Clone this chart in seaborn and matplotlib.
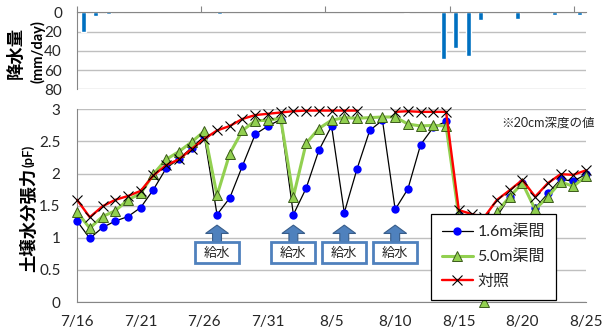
import numpy as np
import pandas as pd
import seaborn as sns
import matplotlib.pyplot as plt
from matplotlib.lines import Line2D
from matplotlib.patches import Rectangle, FancyArrow

# day index 0 = 7/16 ... 40 = 8/25
days = list(range(41))
date_labels = ["7/16", "7/21", "7/26", "7/31", "8/5", "8/10", "8/15", "8/20", "8/25"]

# daily rainfall (mm/day)
rain = [20, 4, 2, 0, 0, 0, 0, 0, 0, 0,
        0, 2, 0, 0, 0, 0, 0, 0, 0, 0,
        0, 0, 0, 0, 0, 0, 0.5, 0, 0, 48,
        37, 45, 8, 0, 0, 6.5, 0, 0, 2.5, 0,
        2.5]

# soil water tension (pF) at 20cm depth
pf_16m = [1.26, 0.99, 1.16, 1.26, 1.33, 1.47, 1.75, 2.08, 2.23, 2.40,
          2.58, 1.36, 1.62, 2.12, 2.61, 2.74, 2.84, 1.36, 1.77, 2.36,
          2.74, 1.39, 2.07, 2.67, 2.83, 1.44, 1.76, 2.45, 2.72, 2.81,
          1.35, 1.28, 1.22, 1.33, 1.64, 1.85, 1.46, 1.69, 1.91, 1.88,
          1.99]
pf_50m = [1.40, 1.15, 1.33, 1.42, 1.59, 1.69, 1.99, 2.22, 2.34, 2.49,
          2.66, 1.66, 2.31, 2.67, 2.82, 2.83, 2.86, 1.64, 2.47, 2.70,
          2.83, 2.87, 2.86, 2.87, 2.88, 2.88, 2.77, 2.74, 2.75, 2.74,
          1.34, 1.30, 0.00, 1.40, 1.64, 1.85, 1.44, 1.64, 1.87, 1.80,
          1.96]
pf_ctrl = [1.59, 1.32, 1.49, 1.59, 1.65, 1.73, 1.97, 2.13, 2.22, 2.38,
           2.54, 2.67, 2.74, 2.85, 2.91, 2.93, 2.95, 2.97, 2.98, 2.98,
           2.98, 2.98, 2.98, np.nan, np.nan, 2.96, 2.97, 2.96, 2.96, 2.96,
           1.43, 1.37, 1.32, 1.59, 1.74, 1.90, 1.64, 1.85, 1.99, 1.98,
           2.05]

# watering days (給水)
water_days = [11, 17, 21, 25]

sns.set_style("white")
plt.rcParams['font.family'] = ['Lato', 'Noto Sans CJK JP']

grid_c = '#BFBFBF'
axis_c = '#868686'
text_c = '#262626'

fig = plt.figure(figsize=(6.02, 3.34), dpi=100)
ax1 = fig.add_axes([0.1284, 0.7326, 0.845, 0.2305])
ax2 = fig.add_axes([0.128, 0.0958, 0.8455, 0.577])

# --- rainfall panel ---
sns.barplot(x=days, y=rain, ax=ax1, color='#0070C0', saturation=1, width=0.4)
ax1.set_xlim(-0.5, 40.5)
ax1.set_ylim(80, 0)
ax1.set_yticks([0, 20, 40, 60, 80])
ax1.set_yticklabels(['0', '20', '40', '60', '80'])
ax1.xaxis.tick_top()
ax1.set_xticks([-0.5, 9.5, 19.5, 29.5, 39.5])
ax1.set_xticklabels([])
ax1.grid(axis='y', color=grid_c, lw=1)
ax1.set_axisbelow(True)
for s in ['bottom', 'right']:
    ax1.spines[s].set_visible(False)
for s in ['top', 'left']:
    ax1.spines[s].set_color(axis_c)
ax1.tick_params(axis='x', length=4, color=axis_c, direction='out')
ax1.tick_params(axis='y', length=3, color=axis_c, pad=8, labelsize=11, labelcolor=text_c)
ax1.set_xlabel('')
ax1.set_ylabel('')

# --- soil water tension panel ---
df_ctrl = pd.DataFrame({'day': days, 'pf': pf_ctrl})
df_ctrl['seg'] = df_ctrl['pf'].isna().cumsum()
df_ctrl = df_ctrl.dropna()

sns.lineplot(x=days, y=pf_16m, ax=ax2, color='black', lw=0.9, marker='o', ms=6,
             mfc='blue', mec='blue', mew=0, clip_on=False, zorder=3)
sns.lineplot(x=days, y=pf_50m, ax=ax2, color='#92D050', lw=2.2, marker='^', ms=6.5,
             mfc='#92D050', mec='#3A5A1A', mew=0.7, clip_on=False, zorder=3)
sns.lineplot(data=df_ctrl, x='day', y='pf', units='seg', estimator=None, ax=ax2,
             color='#FF0000', lw=1.7, marker='x', ms=7, mec='black', mew=0.8,
             clip_on=False, zorder=4)

ax2.set_xlim(0, 40)
ax2.set_ylim(0, 3)
ax2.set_xticks(range(0, 41, 5))
ax2.set_xticklabels(date_labels)
ax2.set_yticks([0, 0.5, 1, 1.5, 2, 2.5, 3])
ax2.set_yticklabels(['0', '0.5', '1', '1.5', '2', '2.5', '3'])
ax2.grid(axis='y', color=grid_c, lw=1)
ax2.set_axisbelow(True)
for s in ['top', 'right']:
    ax2.spines[s].set_visible(False)
for s in ['bottom', 'left']:
    ax2.spines[s].set_color(axis_c)
ax2.tick_params(axis='x', length=4, color=axis_c, pad=5, labelsize=11, labelcolor=text_c)
ax2.tick_params(axis='y', length=4, color=axis_c, pad=8, labelsize=11, labelcolor=text_c)
ax2.set_xlabel('')
ax2.set_ylabel('')

# watering markers
for d in water_days:
    ax2.add_patch(FancyArrow(d, 0.94, 0, 0.257, width=0.7, head_width=1.8,
                             head_length=0.13, length_includes_head=True,
                             fc='#4F81BD', ec='#385D8A', lw=0.8, zorder=2))
    ax2.add_patch(Rectangle((d - 1.73, 0.60), 3.46, 0.336, fc='white',
                            ec='#4F81BD', lw=2, zorder=2))
    ax2.text(d, 0.768, '給水', ha='center', va='center', fontsize=9.5,
             color=text_c, zorder=3)

handles = [
    Line2D([], [], color='black', lw=0.9, marker='o', ms=6, mfc='blue', mec='blue', mew=0),
    Line2D([], [], color='#92D050', lw=2.2, marker='^', ms=6.5, mfc='#92D050',
           mec='#3A5A1A', mew=0.7),
    Line2D([], [], color='#FF0000', lw=1.7, marker='x', ms=7, mec='black', mew=0.8),
]
leg = ax2.legend(handles, ['1.6m渠間', '5.0m渠間', '対照'], loc='lower left',
                 bbox_to_anchor=(0.6955, 0.0104), fontsize=11.5, frameon=True,
                 fancybox=False, framealpha=1, edgecolor='black',
                 handlelength=1.9, handletextpad=0.3, labelspacing=0.65,
                 borderpad=0.7, borderaxespad=0)
leg.get_frame().set_linewidth(0.9)
leg.set_zorder(10)

# labels
fig.text(28.5 / 602, 1 - 220 / 334, '土壌水分張力', rotation=90, ha='center', va='center',
         fontsize=12.5, fontweight='bold', color='black')
fig.text(28.5 / 602, 1 - 156 / 334, '(pF)', rotation=90, ha='center', va='center',
         fontsize=9.5, fontweight='bold', color='black')
fig.text(15.5 / 602, 1 - 53 / 334, '降水量', rotation=90, ha='center', va='center',
         fontsize=12.5, fontweight='bold', color='black')
fig.text(37.5 / 602, 1 - 51.5 / 334, '(mm/day)', rotation=90, ha='center', va='center',
         fontsize=10.5, fontweight='bold', color='black')
fig.text(501.7 / 602, 1 - 123 / 334, '※20cm深度の値', ha='left', va='center',
         fontsize=9, color=text_c)

fig.savefig('out.png', dpi=100)
